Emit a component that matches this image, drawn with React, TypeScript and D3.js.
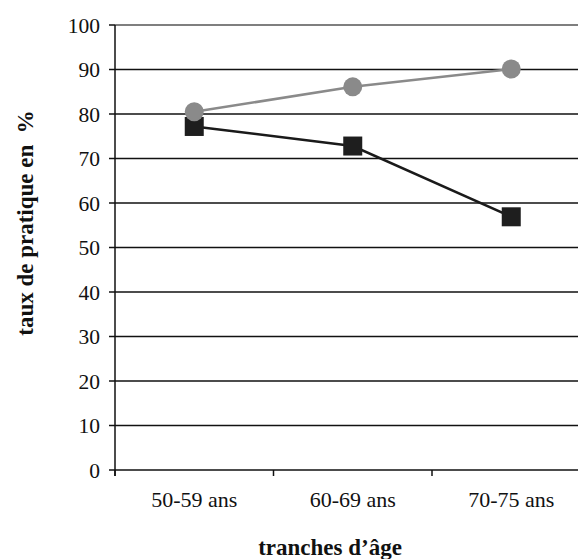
import React from 'react';
import * as d3 from 'd3';

const categories = ['50-59 ans', '60-69 ans', '70-75 ans'];
const grayValues = [80.5, 86.1, 90.1];
const blackValues = [77.2, 72.8, 56.9];
const yTicks = [0, 10, 20, 30, 40, 50, 60, 70, 80, 90, 100];

const W = 578;
const H = 559;
const left = 115;
const bandW = 158.5;
const top = 25;
const bottom = 470;

export default function App() {
  const x = d3.scaleBand<string>().domain(categories).range([left, left + bandW * 3]);
  const y = d3.scaleLinear().domain([0, 100]).range([bottom, top]);
  const cx = (c: string) => (x(c) ?? 0) + x.bandwidth() / 2;

  const line = d3.line<number>()
    .x((_, i) => cx(categories[i]))
    .y(d => y(d));

  const font = "Tinos, 'Times New Roman', Times, 'Liberation Serif', 'Nimbus Roman', FreeSerif, 'DejaVu Serif', serif";
  const xEdges = [...categories.map(c => x(c) ?? 0), left + bandW * 3];

  return (
    <svg width={W} height={H} style={{ position: 'absolute', left: 0, top: 0, fontFamily: font }}>
      <rect width={W} height={H} fill="#fff" />
      {yTicks.map(t => (
        <g key={t}>
          {t > 0 && (
            <line x1={left} x2={W} y1={y(t)} y2={y(t)} stroke={t === 100 ? '#555' : '#111'} strokeWidth={1.5} />
          )}
          <line x1={left - 6} x2={left} y1={y(t)} y2={y(t)} stroke="#111" strokeWidth={1.5} />
          <text x={left - 15} y={y(t)} dy="0.36em" textAnchor="end" fontSize={21.5} fill="#111" style={{ fontFamily: font }}>{t}</text>
        </g>
      ))}
      <line x1={left} x2={W} y1={bottom} y2={bottom} stroke="#111" strokeWidth={1.5} />
      <line x1={left} x2={left} y1={top} y2={bottom + 6} stroke="#111" strokeWidth={1.5} />
      {xEdges.map((e, i) => (
        <line key={i} x1={e} x2={e} y1={bottom} y2={bottom + 6} stroke="#111" strokeWidth={1.5} />
      ))}
      {categories.map(c => (
        <text key={c} x={cx(c)} y={507} textAnchor="middle" fontSize={22} fill="#111" style={{ fontFamily: font }}>{c}</text>
      ))}

      <path d={line(blackValues) || ''} fill="none" stroke="#1a1a1a" strokeWidth={2.5} />
      {blackValues.map((v, i) => (
        <rect key={i} x={cx(categories[i]) - 9.5} y={y(v) - 9.5} width={19} height={19} fill="#1e1e1e" />
      ))}
      <path d={line(grayValues) || ''} fill="none" stroke="#8a8a8a" strokeWidth={2.5} />
      {grayValues.map((v, i) => (
        <circle key={i} cx={cx(categories[i])} cy={y(v)} r={9.5} fill="#8a8a8a" />
      ))}

      <text x={330} y={555} textAnchor="middle" fontSize={23} fontWeight="bold" fill="#111" style={{ fontFamily: font }}>tranches d’âge</text>
      <text transform={`translate(33, 223) rotate(-90)`} textAnchor="middle" fontSize={23} fontWeight="bold" fill="#111" style={{ fontFamily: font, whiteSpace: 'pre' }}>taux de pratique en  %</text>
    </svg>
  );
}
